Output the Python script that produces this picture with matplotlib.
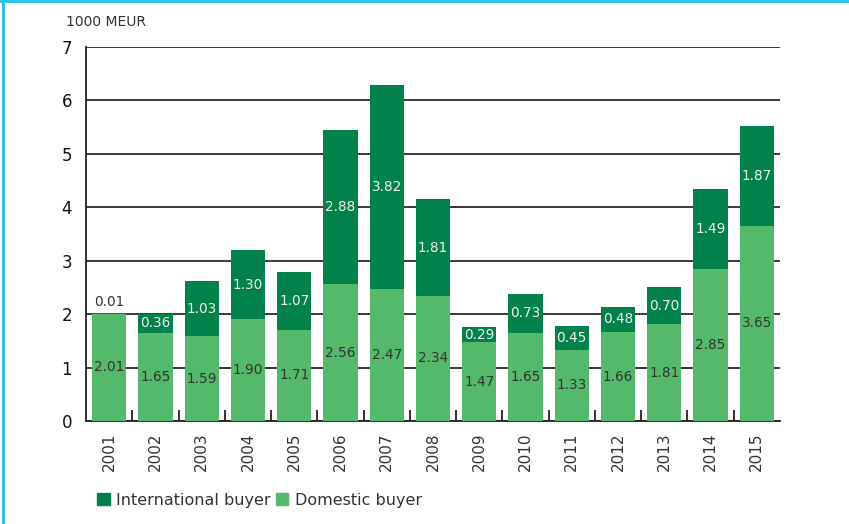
import numpy as np
import matplotlib.pyplot as plt
from matplotlib.patches import Patch
from matplotlib.lines import Line2D

# --- Data ---
years = ['2001', '2002', '2003', '2004', '2005', '2006', '2007', '2008',
         '2009', '2010', '2011', '2012', '2013', '2014', '2015']
domestic = [2.01, 1.65, 1.59, 1.90, 1.71, 2.56, 2.47, 2.34, 1.47, 1.65, 1.33, 1.66, 1.81, 2.85, 3.65]
international = [0.01, 0.36, 1.03, 1.30, 1.07, 2.88, 3.82, 1.81, 0.29, 0.73, 0.45, 0.48, 0.70, 1.49, 1.87]

DARK = '#00824A'
LIGHT = '#54B96A'
TEXT = '#333333'

fig = plt.figure(figsize=(8.49, 5.24), dpi=100)
ax = fig.add_axes([0.1013, 0.1966, 0.8174, 0.7137])

x = np.arange(len(years))
dom = np.array(domestic)
intl = np.array(international)

ax.bar(x, dom, width=0.74, color=LIGHT, zorder=3)
ax.bar(x, intl, width=0.74, bottom=dom, color=DARK, zorder=3)

# value labels
for i in range(len(years)):
    ax.text(x[i], dom[i] / 2, f'{dom[i]:.2f}', ha='center', va='center',
            fontsize=9.8, color=TEXT, zorder=4)
    if intl[i] < 0.1:
        ax.text(x[i], dom[i] + intl[i] + 0.08, f'{intl[i]:.2f}', ha='center', va='bottom',
                fontsize=9.8, color=TEXT, zorder=4)
    else:
        ax.text(x[i], dom[i] + intl[i] / 2, f'{intl[i]:.2f}', ha='center', va='center',
                fontsize=9.8, color='#f2f2f2', zorder=4)

ax.set_xlim(-0.5, len(years) - 0.5)
ax.set_ylim(0, 7)
ax.set_yticks(range(8))
ax.tick_params(axis='y', length=0, pad=10, labelsize=12, labelcolor='#111111')
ax.yaxis.grid(True, color='#2b2b2b', linewidth=1.3, zorder=1)

ax.set_xticks(x)
ax.set_xticklabels(years, rotation=90, fontsize=11, color=TEXT)
ax.tick_params(axis='x', which='major', length=0, pad=8)
ax.set_xticks(x[:-1] + 0.5, minor=True)
ax.tick_params(axis='x', which='minor', direction='in', length=8, width=1.3, color='#222222')

for s in ['top', 'right']:
    ax.spines[s].set_visible(False)
for s in ['left', 'bottom']:
    ax.spines[s].set_color('#222222')
    ax.spines[s].set_linewidth(1.3)

fig.text(66 / 849, 1 - 22 / 524, '1000 MEUR', ha='left', va='center', fontsize=10, color=TEXT)

handles = [Patch(color=DARK, label='International buyer'),
           Patch(color=LIGHT, label='Domestic buyer')]
fig.legend(handles=handles, loc='center left', bbox_to_anchor=(97 / 849, 1 - 500 / 524),
           ncol=2, frameon=False, fontsize=11.5, handlelength=0.8, handleheight=0.8,
           handletextpad=0.4, columnspacing=0.3, labelcolor=TEXT, borderaxespad=0, borderpad=0)

# cyan frame on top and left
fig.add_artist(Line2D([0.004, 0.004], [0, 1], transform=fig.transFigure, color='#1EC0E6', linewidth=2))
fig.add_artist(Line2D([0, 1], [0.999, 0.999], transform=fig.transFigure, color='#1EC0E6', linewidth=2))

fig.savefig('out.png', dpi=100)
